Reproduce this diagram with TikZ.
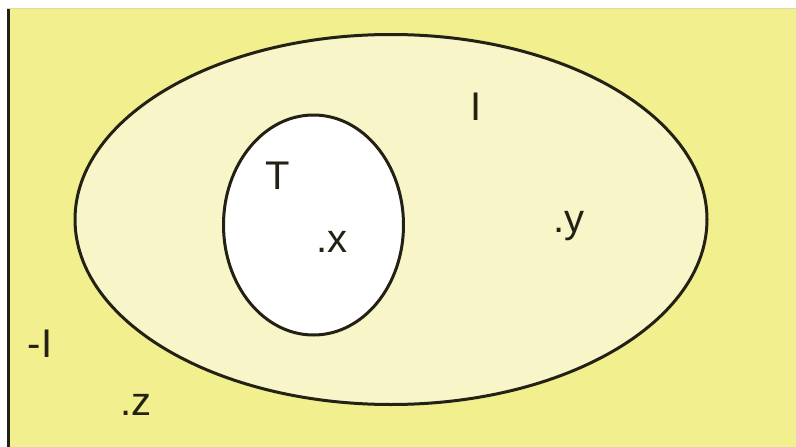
\documentclass[tikz,border=0pt]{standalone}
\usepackage{fontspec}
\setmainfont{Liberation Sans}
\definecolor{bgyellow}{RGB}{241,239,142}
\definecolor{lightyellow}{RGB}{248,245,200}
\definecolor{edgetan}{RGB}{222,218,160}
\definecolor{inkdark}{RGB}{35,33,20}
\tikzset{
  lbl/.style={anchor=base, inner sep=0pt, text=inkdark, font=\fontsize{40}{40}\selectfont},
  setline/.style={draw=inkdark, line width=3pt}
}
\begin{document}
\begin{tikzpicture}[x=1pt,y=-1pt]
\useasboundingbox (0,0) rectangle (796,447);
\fill[white] (0,0) rectangle (796,447);
\fill[bgyellow] (7,8) rectangle (796,447);
\draw[edgetan, line width=1.5pt] (7,8.5) -- (796,8.5);
\draw[inkdark, line width=3pt] (8,9) -- (8,447);
% outer set I
\path[setline, fill=lightyellow] (391,219.5) ellipse [x radius=316, y radius=185];
% inner set T
\path[setline, fill=white] (313.5,225) ellipse [x radius=90, y radius=110];
\node[lbl] (lI) at (476,120) {I};
\node[lbl] (lT) at (278,189) {T};
\node[lbl] (lx) at (332,252) {.x};
\node[lbl] (ly) at (569,232) {.y};
\node[lbl] (lnI) at (40,357) {-I};
\node[lbl] (lz) at (136,415) {.z};
\end{tikzpicture}
\end{document}
